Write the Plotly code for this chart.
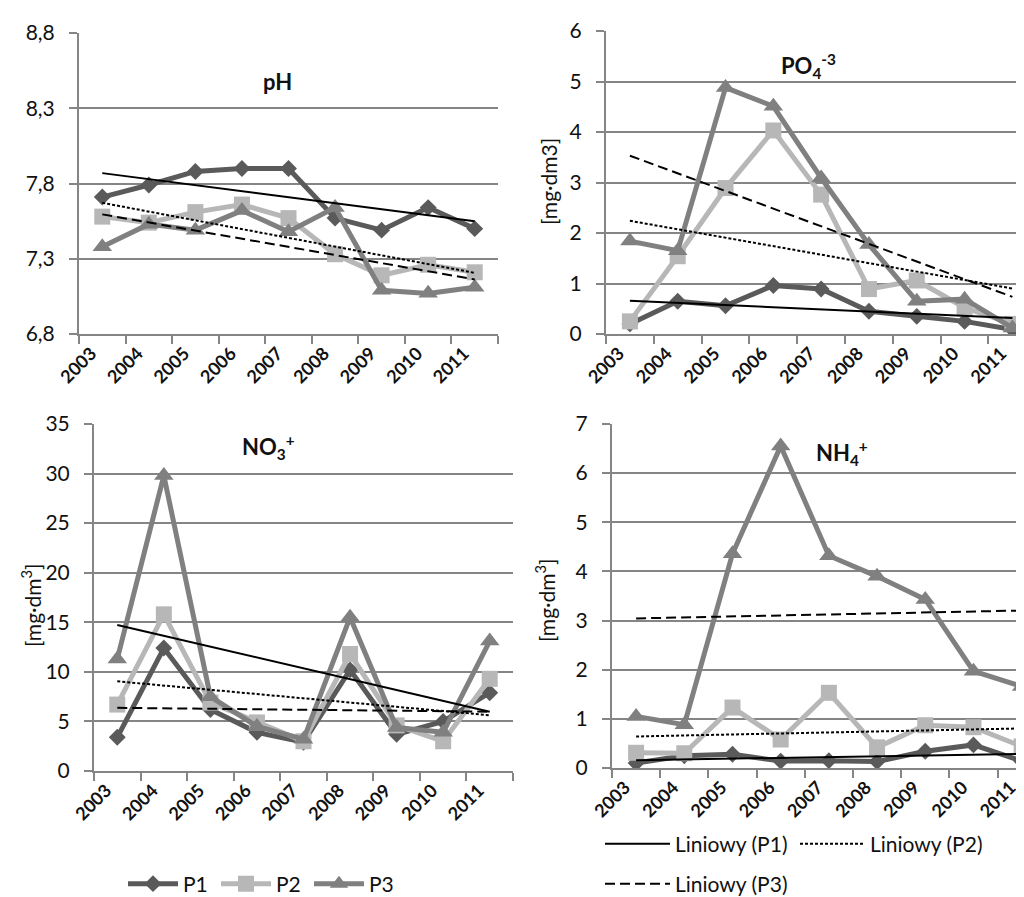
import numpy as np
import plotly.graph_objects as go

# ---------------- data ----------------
years = ["2003", "2004", "2005", "2006", "2007", "2008", "2009", "2010", "2011"]
series_names = ["P1", "P2", "P3"]

ph_p1 = [7.71, 7.79, 7.88, 7.90, 7.90, 7.57, 7.49, 7.64, 7.50]
ph_p2 = [7.58, 7.54, 7.61, 7.66, 7.57, 7.33, 7.19, 7.26, 7.21]
ph_p3 = [7.38, 7.53, 7.49, 7.62, 7.48, 7.64, 7.09, 7.07, 7.11]

po4_p1 = [0.20, 0.65, 0.56, 0.96, 0.89, 0.45, 0.35, 0.25, 0.09]
po4_p2 = [0.25, 1.54, 2.89, 4.03, 2.76, 0.89, 1.06, 0.52, 0.20]
po4_p3 = [1.84, 1.65, 4.88, 4.51, 3.09, 1.77, 0.65, 0.69, 0.12]

no3_p1 = [3.4, 12.4, 6.2, 3.9, 2.9, 10.2, 3.7, 5.0, 7.9]
no3_p2 = [6.7, 15.8, 6.9, 4.9, 3.0, 11.8, 4.6, 3.0, 9.3]
no3_p3 = [11.3, 29.8, 7.5, 4.5, 3.2, 15.5, 4.4, 3.9, 13.1]

nh4_p1 = [0.10, 0.25, 0.28, 0.14, 0.15, 0.13, 0.34, 0.47, 0.14]
nh4_p2 = [0.31, 0.30, 1.23, 0.58, 1.53, 0.42, 0.87, 0.83, 0.44]
nh4_p3 = [1.05, 0.88, 4.36, 6.55, 4.32, 3.90, 3.43, 1.97, 1.66]

trend_names = ["Liniowy (P1)", "Liniowy (P2)", "Liniowy (P3)"]

# ---------------- styling ----------------
FONT = "Lato, 'Open Sans', sans-serif"
GRID = "#858585"
TXT = "#111111"
COLORS = ["#5a5a5a", "#b7b7b7", "#808080"]
SYMBOLS = ["diamond", "square", "triangle-up"]
MSIZES = [13, 16, 17]
DASH_SOLID, DASH_DOT, DASH_LONG = "solid", "3px,2px", "10px,5px"

W, H = 1024, 897


def px_x(a, b):
    return [a / W, b / W]


def px_y(top, bottom):
    return [1 - bottom / H, 1 - top / H]


panels = [
    dict(data=[ph_p1, ph_p2, ph_p3], dom_x=px_x(71, 490), dom_y=px_y(25, 326),
         xr=[-0.5, 8.5], yr=[6.8, 8.8], dtick=0.5, tick0=6.8, fmt=".1f",
         dashes=[DASH_SOLID, DASH_DOT, DASH_LONG]),
    dict(data=[po4_p1, po4_p2, po4_p3], dom_x=px_x(598, 1024), dom_y=px_y(23, 326),
         xr=[-0.5, 8.41], yr=[0, 6], dtick=1, tick0=0, fmt="d",
         dashes=[DASH_SOLID, DASH_DOT, DASH_LONG]),
    dict(data=[no3_p1, no3_p2, no3_p3], dom_x=px_x(86, 505), dom_y=px_y(416, 763),
         xr=[-0.5, 8.5], yr=[0, 35], dtick=5, tick0=0, fmt="d",
         dashes=[DASH_LONG, DASH_DOT, DASH_SOLID]),
    dict(data=[nh4_p1, nh4_p2, nh4_p3], dom_x=px_x(604, 1024), dom_y=px_y(416, 760),
         xr=[-0.5, 8.215], yr=[0, 7], dtick=1, tick0=0, fmt="d",
         dashes=[DASH_SOLID, DASH_DOT, DASH_LONG]),
]

fig = go.Figure()
xi = np.arange(len(years))

for p_i, p in enumerate(panels):
    sfx = "" if p_i == 0 else str(p_i + 1)
    xa, ya = "x" + sfx, "y" + sfx
    # data series
    for s_i, vals in enumerate(p["data"]):
        fig.add_trace(go.Scatter(
            x=years, y=vals, xaxis=xa, yaxis=ya, mode="lines+markers",
            name=series_names[s_i],
            line=dict(color=COLORS[s_i], width=5),
            marker=dict(symbol=SYMBOLS[s_i], size=MSIZES[s_i], color=COLORS[s_i]),
            showlegend=(p_i == 2), legend="legend", cliponaxis=True,
        ))
    # linear trend lines (least squares on category index)
    for s_i, vals in enumerate(p["data"]):
        k, b = np.polyfit(xi, np.array(vals, dtype=float), 1)
        fig.add_trace(go.Scatter(
            x=years, y=k * xi + b, xaxis=xa, yaxis=ya, mode="lines",
            name=trend_names[s_i],
            line=dict(color="#000000", width=2, dash=p["dashes"][s_i]),
            showlegend=(p_i == 3),
            legend=("legend2" if s_i < 2 else "legend3"),
        ))

    fig.layout["xaxis" + sfx] = dict(
        domain=p["dom_x"], anchor=ya, type="category", automargin=False,
        categoryorder="array", categoryarray=years, range=p["xr"],
        tickson="boundaries", ticks="outside", ticklen=8, tickwidth=2,
        tickcolor=GRID, showline=True, linecolor=GRID, linewidth=2,
        showgrid=False, zeroline=False, tickangle=-45, ticklabelshift=-11,
        tickfont=dict(family=FONT, size=18, color=TXT, weight="bold"),
    )
    fig.layout["yaxis" + sfx] = dict(
        domain=p["dom_y"], anchor=xa, range=p["yr"], dtick=p["dtick"],
        tick0=p["tick0"], tickformat=p["fmt"], showgrid=True, gridcolor=GRID,
        gridwidth=2, showline=True, linecolor=GRID, linewidth=2,
        ticks="outside", ticklen=8, tickwidth=2, tickcolor=GRID,
        zeroline=False, ticklabelstandoff=10, automargin=False,
        tickfont=dict(family=FONT, size=21, color=TXT),
    )

ann = []
title_font = dict(family=FONT, size=22, color=TXT, weight="bold")
for txt, x, y in [("pH", 269, 74),
                  ("PO<sub>4</sub><sup>-3</sup>", 800, 58),
                  ("NO<sub>3</sub><sup>+</sup>", 260, 439),
                  ("NH<sub>4</sub><sup>+</sup>", 834, 445)]:
    ann.append(dict(text=txt, x=x / W, y=1 - y / H, xref="paper", yref="paper",
                    showarrow=False, font=title_font, xanchor="center", yanchor="middle"))

ylab_font = dict(family=FONT, size=21, color=TXT)
for txt, x, y in [("[mg·dm3]", 541, 174),
                  ("[mg·dm<sup>3</sup>]", 23, 597),
                  ("[mg·dm<sup>3</sup>]", 537, 592)]:
    ann.append(dict(text=txt, x=x / W, y=1 - y / H, xref="paper", yref="paper",
                    showarrow=False, font=ylab_font, textangle=-90,
                    xanchor="center", yanchor="middle"))

leg_font = dict(family=FONT, size=21, color=TXT)
fig.update_layout(
    template="none",
    width=W, height=H, margin=dict(l=0, r=0, t=0, b=0, autoexpand=False),
    paper_bgcolor="white", plot_bgcolor="white",
    separators=", ", annotations=ann, hovermode="closest",
    legend=dict(orientation="h", x=115 / W, y=1 - 876 / H, xanchor="left",
                yanchor="middle", font=leg_font, bgcolor="rgba(0,0,0,0)",
                itemwidth=50, entrywidth=28, entrywidthmode="pixels",
                traceorder="normal"),
    legend2=dict(orientation="h", x=592 / W, y=1 - 836 / H, xanchor="left",
                 yanchor="middle", font=leg_font, bgcolor="rgba(0,0,0,0)",
                 itemwidth=65, entrywidth=115, entrywidthmode="pixels",
                 traceorder="normal"),
    legend3=dict(orientation="h", x=592 / W, y=1 - 876 / H, xanchor="left",
                 yanchor="middle", font=leg_font, bgcolor="rgba(0,0,0,0)",
                 itemwidth=65, traceorder="normal"),
)

fig.write_html("out.html")
